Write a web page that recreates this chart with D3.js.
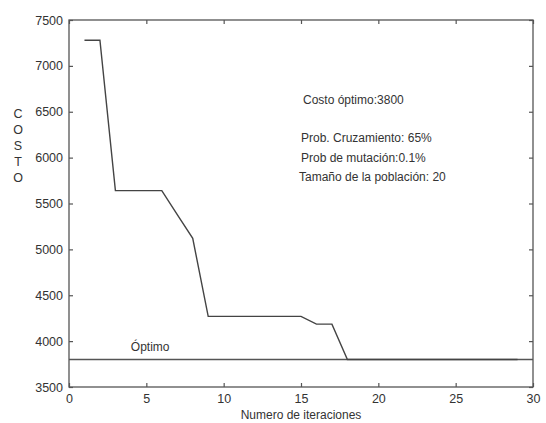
<!DOCTYPE html>
<html><head><meta charset="utf-8">
<script src="https://cdn.jsdelivr.net/npm/d3@7"></script>
<style>
body{margin:0;background:#fff;}
text{font-family:"Liberation Sans",Arial,sans-serif;fill:#333;}
</style></head>
<body><svg id="c" width="546" height="423"></svg>
<script>
const iterations = [1,2,3,4,5,6,7,8,9,10,11,12,13,14,15,16,17,18,19,20,21,22,23,24,25,26,27,28,29];
const costs = [7280,7280,5640,5640,5640,5640,5380,5120,4270,4270,4270,4270,4270,4270,4270,4185,4185,3800,3800,3800,3800,3800,3800,3800,3800,3800,3800,3800,3800];
const optimum = 3800;
const xTicks = [0,5,10,15,20,25,30];
const yTicks = [3500,4000,4500,5000,5500,6000,6500,7000,7500];
const annotations = ["Costo óptimo:3800","Prob. Cruzamiento: 65%","Prob de mutación:0.1%","Tamaño de la población: 20"];

const svg = d3.select("#c");
const L=69,R=533,T=20,B=387;
const x = d3.scaleLinear().domain([0,30]).range([L,R]);
const y = d3.scaleLinear().domain([3500,7500]).range([B,T]);
const col="#555";

svg.append("rect").attr("x",L).attr("y",T).attr("width",R-L).attr("height",B-T)
  .attr("fill","none").attr("stroke",col).attr("stroke-width",1.3);

const fs="12.5px";
const fmt=d3.format("d");
const gx=svg.append("g").attr("transform",`translate(0,${B})`)
  .call(d3.axisBottom(x).tickValues(xTicks).tickFormat(fmt).tickSizeInner(-4).tickSizeOuter(0).tickPadding(7));
const gxt=svg.append("g").attr("transform",`translate(0,${T})`)
  .call(d3.axisTop(x).tickValues(xTicks).tickSizeInner(-4).tickSizeOuter(0).tickFormat(""));
const gy=svg.append("g").attr("transform",`translate(${L},0)`)
  .call(d3.axisLeft(y).tickValues(yTicks).tickFormat(fmt).tickSizeInner(-4).tickSizeOuter(0).tickPadding(6));
const gyr=svg.append("g").attr("transform",`translate(${R},0)`)
  .call(d3.axisRight(y).tickValues(yTicks).tickSizeInner(-4).tickSizeOuter(0).tickFormat(""));
[gx,gxt,gy,gyr].forEach(g=>{
  g.select(".domain").remove();
  g.selectAll("line").attr("stroke",col).attr("stroke-width",1.2);
  g.selectAll("text").attr("font-family","Liberation Sans, Arial, sans-serif").attr("font-size",fs).attr("fill","#333");
});

// optimum line
svg.append("line").attr("x1",x(0)).attr("x2",x(30)).attr("y1",y(optimum)).attr("y2",y(optimum))
  .attr("stroke",col).attr("stroke-width",1.3);

// cost line
svg.append("path").datum(iterations.map((d,i)=>[d,costs[i]]))
  .attr("d",d3.line().x(d=>x(d[0])).y(d=>y(d[1])))
  .attr("fill","none").attr("stroke","#444").attr("stroke-width",1.4);

// texts
svg.append("text").attr("x",x(4)).attr("y",y(optimum)-8).attr("font-size","12px").text("Óptimo");
const ay=[104,142,162,181];
annotations.forEach((t,i)=>{
  svg.append("text").attr("x",i===0?303:i===3?299:301).attr("y",ay[i]).attr("font-size","12px").text(t);
});
svg.append("text").attr("x",(L+R)/2).attr("y",419).attr("text-anchor","middle").attr("font-size","12px").text("Numero de iteraciones");
const ylab="COSTO".split("");
ylab.forEach((ch,i)=>{
  svg.append("text").attr("x",18).attr("y",118+i*16).attr("text-anchor","middle").attr("font-size","12.5px").text(ch);
});
</script></body></html>
